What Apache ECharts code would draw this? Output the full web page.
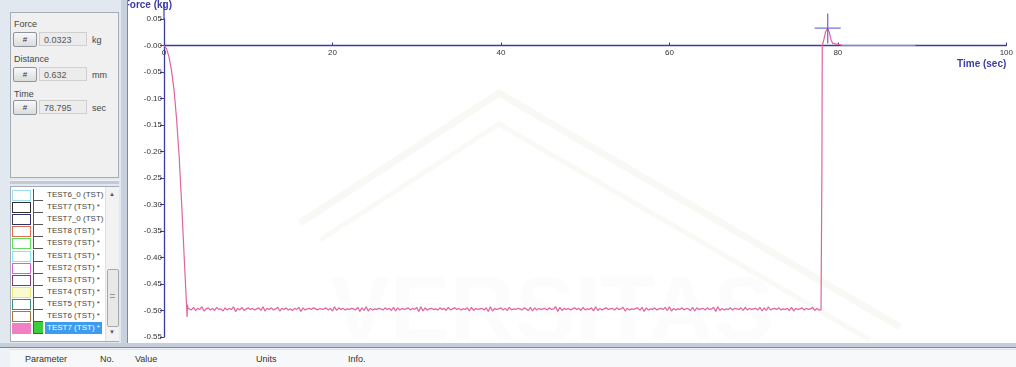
<!DOCTYPE html>
<html>
<head>
<meta charset="utf-8">
<script src="https://cdn.jsdelivr.net/npm/echarts@6/dist/echarts.min.js"></script>
<style>
  body { margin: 0; width: 1016px; height: 367px; position: relative; overflow: hidden;
         background: #d8e0eb; font-family: 'Liberation Sans', Arial, sans-serif; font-size: 9px; color: #333; }
  #chart { position: absolute; left: 0; top: 0; width: 1016px; height: 343px; background: #fff; }
  #side { position: absolute; left: 0; top: 0; width: 121px; height: 343px; background: #e2e8f0; }
  #split { position: absolute; left: 121px; top: 0; width: 6px; height: 343px; background: #c8d1dd; border-right: 1px solid #7f8896; }
  .box { position: absolute; left: 10px; top: 12px; width: 107px; height: 164px; background: #f0f0f0; border: 1px solid #a4acb6; }
  .lbl { position: absolute; left: 3px; font-size: 9px; color: #444; }
  .btn { position: absolute; left: 2px; width: 22px; height: 13px; border: 1px solid #8d949c; border-radius: 2px;
         background: linear-gradient(#f8f8f8, #dcdcdc); text-align: center; line-height: 13px; font-size: 8px; color: #333; }
  .val { position: absolute; left: 28px; width: 48px; height: 14px; background: #ececec; border: 1px solid #d0d0d0;
         line-height: 14px; padding-left: 4px; box-sizing: border-box; color: #555; }
  .unit { position: absolute; left: 81px; color: #444; }
  #hbar { position: absolute; left: 10px; top: 180px; width: 109px; height: 3px; background: #c3cad4; border-top: 1px solid #eef1f5; }
  #list { position: absolute; left: 10px; top: 186px; width: 107px; height: 154px; background: #fff; border: 1px solid #a4acb6; }
  .row { position: absolute; left: 0; height: 12px; width: 93px; }
  .sw { position: absolute; left: 1px; top: 1px; width: 17px; height: 9px; border: 1px solid #888; }
  .ck { position: absolute; left: 22px; top: 0; width: 9px; height: 11px; border-left: 1px solid #555; border-bottom: 1px solid #555; }
  .tx { position: absolute; left: 34px; top: 0; line-height: 12px; font-size: 8px; color: #444; white-space: nowrap; padding: 0 2px; }
  #sb { position: absolute; left: 94px; top: 0; width: 13px; height: 154px; background: #f2f2f2; border-left: 1px solid #e0e0e0; }
  #thumb { position: absolute; left: 1px; top: 82px; width: 10px; height: 56px; background: #e8e8e8; border: 1px solid #a8a8a8; border-radius: 2px; }
  #bottom { position: absolute; left: 0; top: 343px; width: 1016px; height: 24px; background: #eef1f5; }
  #bline { position: absolute; left: 0; top: 0; width: 1016px; height: 4px; background: #c6ced9; border-bottom: 1px solid #7e8896; }
  #head { position: absolute; left: 10px; top: 6px; width: 1006px; height: 18px; background: #f7f8f9; border-top: 1px solid #dde2e8; }
  .h { position: absolute; top: 4px; font-size: 9px; color: #333; }
</style>
</head>
<body>
<div id="chart"></div>
<div id="side">
  <div class="box">
    <div class="lbl" style="top:6px">Force</div>
    <div class="btn" style="top:19px">#</div><div class="val" style="top:19px">0.0323</div><div class="unit" style="top:22px">kg</div>
    <div class="lbl" style="top:41px">Distance</div>
    <div class="btn" style="top:54px">#</div><div class="val" style="top:54px">0.632</div><div class="unit" style="top:57px">mm</div>
    <div class="lbl" style="top:76px">Time</div>
    <div class="btn" style="top:87px">#</div><div class="val" style="top:87px">78.795</div><div class="unit" style="top:90px">sec</div>
  </div>
  <div id="hbar"></div>
  <div id="list"></div>
</div>
<div id="split"></div>
<div id="bottom">
  <div id="bline"></div>
  <div id="head">
    <span class="h" style="left:15px">Parameter</span>
    <span class="h" style="left:90px">No.</span>
    <span class="h" style="left:125px">Value</span>
    <span class="h" style="left:246px">Units</span>
    <span class="h" style="left:338px">Info.</span>
  </div>
</div>
<script>
// descent at start of test (time s, force kg)
const rampTime  = [0, 0.3, 0.6, 0.9, 1.2, 1.5, 1.8, 2.1, 2.4, 2.6, 2.70, 2.74, 2.78, 2.85];
const rampForce = [0, -0.006, -0.022, -0.048, -0.085, -0.140, -0.210, -0.300, -0.400, -0.465, -0.498, -0.512, -0.489, -0.496];

// hold period, sampled every 0.25 s from 3.0 s
const holdStart = 3.0;
const holdStep = 0.25;
const holdForce = [
  -0.495,-0.499,-0.494,-0.500,-0.496,-0.498,-0.493,-0.501,-0.497,-0.495,-0.499,-0.496,-0.500,-0.494,-0.498,-0.497,-0.501,-0.495,-0.499,-0.496,
  -0.498,-0.493,-0.502,-0.496,-0.499,-0.494,-0.500,-0.497,-0.495,-0.498,-0.496,-0.499,-0.497,-0.495,-0.500,-0.493,-0.501,-0.496,-0.498,-0.495,
  -0.499,-0.497,-0.494,-0.501,-0.496,-0.498,-0.495,-0.499,-0.497,-0.500,-0.496,-0.498,-0.494,-0.502,-0.495,-0.499,-0.497,-0.496,-0.498,-0.495,
  -0.497,-0.499,-0.496,-0.498,-0.497,-0.495,-0.499,-0.496,-0.501,-0.493,-0.500,-0.495,-0.498,-0.496,-0.499,-0.497,-0.498,-0.496,-0.497,-0.499,
  -0.494,-0.502,-0.495,-0.500,-0.493,-0.501,-0.496,-0.499,-0.497,-0.498,-0.496,-0.497,-0.499,-0.495,-0.498,-0.496,-0.500,-0.494,-0.501,-0.495,
  -0.499,-0.496,-0.498,-0.497,-0.495,-0.499,-0.496,-0.498,-0.494,-0.502,-0.493,-0.501,-0.495,-0.499,-0.497,-0.496,-0.498,-0.497,-0.499,-0.495,
  -0.498,-0.496,-0.500,-0.494,-0.499,-0.497,-0.495,-0.498,-0.496,-0.499,-0.497,-0.498,-0.495,-0.501,-0.494,-0.500,-0.496,-0.498,-0.497,-0.496,
  -0.499,-0.495,-0.502,-0.493,-0.501,-0.496,-0.498,-0.497,-0.495,-0.499,-0.496,-0.500,-0.494,-0.499,-0.497,-0.498,-0.496,-0.497,-0.499,-0.495,
  -0.497,-0.500,-0.494,-0.501,-0.495,-0.499,-0.496,-0.498,-0.497,-0.496,-0.499,-0.495,-0.498,-0.497,-0.493,-0.502,-0.494,-0.500,-0.496,-0.498,
  -0.496,-0.499,-0.497,-0.495,-0.498,-0.496,-0.500,-0.494,-0.499,-0.497,-0.498,-0.495,-0.501,-0.493,-0.500,-0.496,-0.499,-0.497,-0.495,-0.498,
  -0.497,-0.496,-0.499,-0.495,-0.498,-0.497,-0.494,-0.501,-0.496,-0.499,-0.497,-0.498,-0.496,-0.495,-0.500,-0.494,-0.502,-0.495,-0.499,-0.497,
  -0.498,-0.495,-0.499,-0.497,-0.496,-0.498,-0.494,-0.500,-0.493,-0.501,-0.496,-0.499,-0.497,-0.498,-0.495,-0.499,-0.496,-0.497,-0.500,-0.494,
  -0.501,-0.495,-0.498,-0.497,-0.496,-0.499,-0.495,-0.498,-0.497,-0.494,-0.502,-0.493,-0.500,-0.496,-0.499,-0.497,-0.498,-0.495,-0.499,-0.496,
  -0.497,-0.498,-0.495,-0.500,-0.494,-0.499,-0.496,-0.498,-0.497,-0.496,-0.499,-0.494,-0.501,-0.495,-0.500,-0.493,-0.499,-0.497,-0.496,-0.498,
  -0.495,-0.499,-0.497,-0.498,-0.496,-0.500,-0.494,-0.501,-0.496,-0.498,-0.497,-0.495,-0.499,-0.496,-0.498,-0.497,-0.494,-0.500,-0.496,-0.499,
  -0.499
];

// release and return to zero
const riseTime  = [78.1, 78.15, 78.35, 78.55, 78.795, 79.0, 79.2, 79.4, 79.7, 80.1, 80.6, 89.2];
const riseForce = [-0.250, 0.000, 0.012, 0.026, 0.0323, 0.024, 0.010, 0.004, 0.003, 0.002, 0.000, 0.000];

// cursor position (as shown in the side panel)
const cursor = [78.795, 0.0323];

// sample list in the side panel
const testNames = ['TEST6_0 (TST)', 'TEST7 (TST) *', 'TEST7_0 (TST)', 'TEST8 (TST) *', 'TEST9 (TST) *', 'TEST1 (TST) *',
                   'TEST2 (TST) *', 'TEST3 (TST) *', 'TEST4 (TST) *', 'TEST5 (TST) *', 'TEST6 (TST) *', 'TEST7 (TST) *'];
const testColors = ['#9fdcef', '#2e2e2e', '#33336b', '#d8704e', '#5fdc5f', '#86e6f2',
                    '#d85fd8', '#7a3d7a', '#e8e87a', '#3f8a7a', '#a8783e', '#f27fc4'];

const list = document.getElementById('list');
testNames.forEach((name, i) => {
    const last = i === testNames.length - 1;
    const row = document.createElement('div');
    row.className = 'row';
    row.style.top = (2 + i * 12.1) + 'px';
    row.innerHTML =
        '<div class="sw" style="border-color:' + testColors[i] + ';background:' + (last ? testColors[i] : (i === 8 ? '#fbfbd0' : '#fff')) + '"></div>' +
        '<div class="ck" style="' + (last ? 'background:#3ccc3c;' : '') + '"></div>' +
        '<div class="tx" style="' + (last ? 'background:#3d9bf0;color:#fff;' : '') + '">' + name + '</div>';
    list.appendChild(row);
});
const sb = document.createElement('div');
sb.id = 'sb';
sb.innerHTML = '<div style="position:absolute;left:3px;top:4px;font-size:6px;color:#555">&#9650;</div>' +
               '<div id="thumb"><div style="position:absolute;left:2px;top:24px;width:5px;border-top:1px solid #999;border-bottom:1px solid #999;height:2px"></div></div>' +
               '<div style="position:absolute;left:3px;top:142px;font-size:6px;color:#555">&#9660;</div>';
list.appendChild(sb);

const lineData = [];
rampTime.forEach((t, i) => lineData.push([t, rampForce[i]]));
holdForce.forEach((f, i) => lineData.push([holdStart + i * holdStep, f]));
riseTime.forEach((t, i) => lineData.push([t, riseForce[i]]));

const axisBlue = '#3b3ba6';
const font = 'Liberation Sans';

// plot box: top 19, bottom 337 -> zero line sits 26.5px below top
const gridTop = 19, gridBottom = 6, plotH = 318;
const zeroOffset = -(plotH - plotH * 0.05 / 0.6);

const chart = echarts.init(document.getElementById('chart'), null, { renderer: 'canvas' });
const option = {
    animation: false,
    grid: { left: 164, right: 7, top: gridTop, bottom: gridBottom },
    graphic: [
        // faint watermark behind the plot
        { type: 'polyline', z: 0, silent: true, shape: { points: [[300, 223], [499, 93], [900, 327]] },
          style: { stroke: '#f8f8f4', lineWidth: 7, fill: null } },
        { type: 'polyline', z: 0, silent: true, shape: { points: [[320, 240], [499, 124], [870, 340]] },
          style: { stroke: '#f9f9f5', lineWidth: 5, fill: null } },
        { type: 'text', z: 0, silent: true, x: 330, y: 270,
          style: { text: 'VERSITAS', fontSize: 90, fontWeight: 'bold', fontFamily: font, fill: 'rgba(120,120,90,0.018)' } },
        // y axis continues above the top tick
        { type: 'line', z: 5, shape: { x1: 164, y1: 2, x2: 164, y2: 19 }, style: { stroke: axisBlue, lineWidth: 1.2 } },
        { type: 'text', z: 5, x: 172, y: 5,
          style: { text: 'Force (kg)', fontSize: 10, fontWeight: 'bold', fontFamily: font, fill: axisBlue,
                   align: 'right', verticalAlign: 'middle' } }
    ],
    xAxis: {
        type: 'value', min: 0, max: 100, interval: 20,
        position: 'bottom', offset: zeroOffset,
        name: 'Time (sec)', nameLocation: 'end', nameGap: 0,
        nameTextStyle: { color: axisBlue, fontSize: 10, fontWeight: 'bold', fontFamily: font,
                         align: 'right', verticalAlign: 'top', padding: [14, 0, 0, 0] },
        axisLine: { onZero: false, lineStyle: { color: axisBlue, width: 1.3 } },
        axisTick: { inside: true, length: 3, lineStyle: { color: axisBlue } },
        axisLabel: { fontSize: 8, color: '#333', margin: 3, fontFamily: font },
        splitLine: { show: false }
    },
    yAxis: {
        type: 'value', min: -0.55, max: 0.05, interval: 0.05,
        axisLine: { show: true, onZero: false, lineStyle: { color: axisBlue, width: 1.3 } },
        axisTick: { show: true, length: 4, lineStyle: { color: axisBlue } },
        axisLabel: {
            fontSize: 8, color: '#333', margin: 2, fontFamily: font,
            formatter: (v) => v > 0.0001 ? v.toFixed(2) : '-' + Math.abs(v).toFixed(2)
        },
        splitLine: { show: false }
    },
    series: [
        {
            name: 'TEST7', type: 'line', data: lineData, showSymbol: false, z: 3,
            lineStyle: { color: '#e0629f', width: 1.2 }
        },
        {
            name: 'cursor', type: 'scatter', data: [cursor], z: 4,
            symbol: 'path://M0,14H26V15.3H0Z M12.35,0H13.65V30H12.35Z',
            symbolSize: [26, 30],
            itemStyle: { color: '#4f4fd0' }
        }
    ]
};
chart.setOption(option);
</script>
</body>
</html>
